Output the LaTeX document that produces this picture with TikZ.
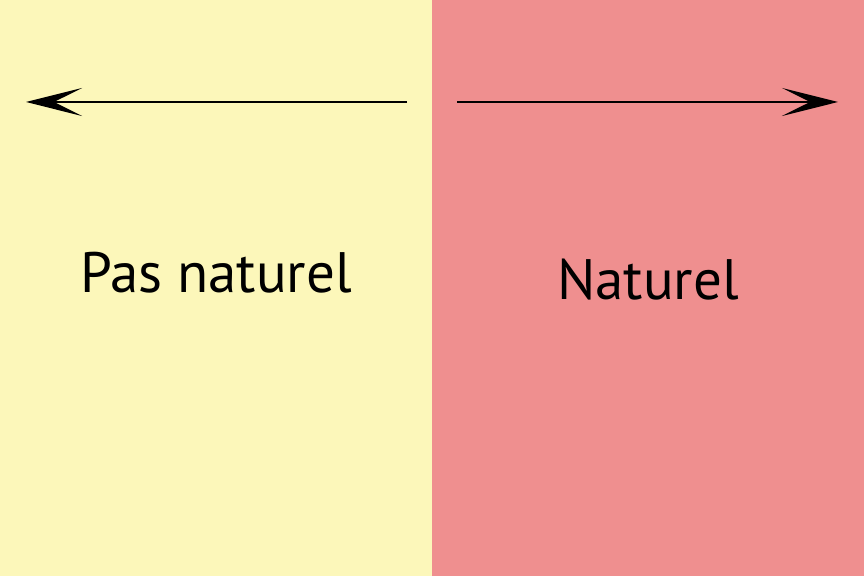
\documentclass[tikz,border=0pt]{standalone}
\usepackage{fontspec}
\setmainfont{PT Sans}
\usetikzlibrary{arrows.meta}
\definecolor{paleyellow}{HTML}{FCF7BA}
\definecolor{palepink}{HTML}{EF8F8F}

\begin{document}
\begin{tikzpicture}[x=1pt,y=1pt,
  label text/.style={font=\fontsize{57}{60}\selectfont,anchor=base,inner sep=0pt},
  side arrow/.style={-{Stealth[length=56pt,width=28pt,inset=28pt]},line width=2.2pt}]
  \useasboundingbox (0,0) rectangle (864,576);
  \fill[paleyellow] (0,0) rectangle (432,576);
  \fill[palepink] (432,0) rectangle (864,576);

  \coordinate (leftstart) at (407,474);
  \coordinate (leftend) at (26,474);
  \coordinate (rightstart) at (457,474);
  \coordinate (rightend) at (838,474);

  \node[label text] (pasnaturel) at (216,283) {Pas naturel};
  \node[label text] (naturel) at (648,276) {Naturel};

  \draw[side arrow] (leftstart) -- (leftend);
  \draw[side arrow] (rightstart) -- (rightend);
\end{tikzpicture}
\end{document}
